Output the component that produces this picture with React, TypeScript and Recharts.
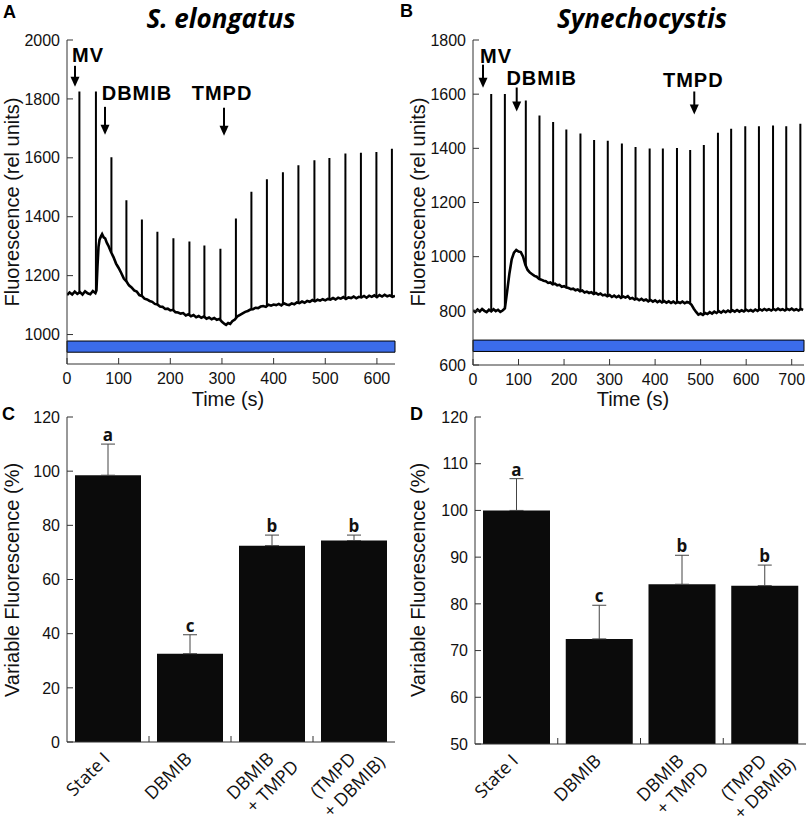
import React from 'react';
import {
  LineChart, Line, XAxis, YAxis, ReferenceArea, ReferenceDot,
  ComposedChart, Bar, ErrorBar, Scatter,
} from 'recharts';

// ---------------- DATA ----------------
// Panel A (S. elongatus) trace: [time s, fluorescence]
const TRACE_A: [number, number][] = [
  [0,1134],[5,1143],[10,1136],[15,1146],[20,1138],[25,1144],[30,1136],[35,1147],[40,1140],[45,1137],[50,1148],[55,1141],
  [57,1150],[59,1232],[61,1298],[63,1322],[66,1334],[68,1341],[71,1330],[74,1326],[77,1312],[80,1302],[85,1281],[90,1263],
  [95,1241],[100,1226],[105,1209],[110,1190],[115,1181],[120,1167],[125,1160],[130,1150],[135,1146],[140,1134],[145,1131],
  [150,1122],[155,1119],[160,1114],[165,1111],[170,1104],[175,1102],[180,1095],[185,1094],[190,1087],[195,1088],[200,1082],
  [205,1084],[210,1076],[215,1075],[220,1071],[225,1073],[230,1065],[235,1069],[240,1062],[245,1066],[250,1059],[255,1063],
  [260,1057],[265,1061],[270,1054],[275,1058],[280,1052],[285,1056],[290,1050],[295,1053],[300,1043],[305,1036],[308,1033],
  [312,1039],[316,1036],[320,1045],[325,1051],[330,1062],[335,1067],[340,1072],[345,1077],[350,1080],[355,1085],[360,1086],
  [365,1091],[370,1090],[375,1095],[380,1097],[385,1094],[390,1101],[395,1098],[400,1102],[405,1100],[410,1104],[415,1099],
  [420,1106],[425,1102],[430,1100],[435,1106],[440,1103],[445,1109],[450,1107],[455,1112],[460,1108],[465,1114],[470,1111],
  [475,1117],[480,1113],[485,1118],[490,1115],[495,1120],[500,1116],[505,1121],[510,1119],[515,1124],[520,1119],[525,1125],
  [530,1122],[535,1127],[540,1121],[545,1126],[550,1124],[555,1129],[560,1123],[565,1128],[570,1126],[575,1131],[580,1125],
  [585,1132],[590,1128],[595,1133],[600,1127],[605,1134],[610,1129],[615,1135],[620,1130],[625,1133],[630,1128],[635,1131],
];
// saturating pulses: [time, base, peak]
const SPIKES_A: [number, number, number][] = [
  [24,1140,1825],[56,1146,1825],[86,1280,1602],[115,1181,1456],[145,1131,1391],[175,1102,1349],[206,1082,1327],
  [237,1067,1316],[266,1059,1302],[297,1050,1291],[327,1055,1394],[357,1085,1485],[387,1096,1527],[418,1102,1551],
  [448,1107,1575],[479,1114,1592],[508,1118,1599],[539,1123,1615],[569,1126,1617],[599,1129,1620],[629,1130,1631],
];
const ANNOT_A = [
  { label: 'MV', t: 15.5, v: 1841 },
  { label: 'DBMIB', t: 73.6, v: 1678 },
  { label: 'TMPD', t: 304, v: 1675 },
];
const A_X_TICKS = [0, 100, 200, 300, 400, 500, 600];
const A_Y_TICKS = [1000, 1200, 1400, 1600, 1800, 2000];
const A_X_DOMAIN: [number, number] = [0, 635];
const A_Y_DOMAIN: [number, number] = [900, 2000];
const A_BAND: [number, number] = [940, 978];

// Panel B (Synechocystis)
const TRACE_B: [number, number][] = [
  [0,802],[5,796],[10,805],[15,798],[20,807],[25,800],[30,795],[35,804],[40,798],[45,806],[50,799],[55,804],[60,796],[65,801],
  [70,809],[75,872],[80,938],[85,990],[90,1015],[95,1025],[100,1019],[105,1017],[110,1000],[115,970],[120,951],[125,941],
  [130,935],[135,929],[140,926],[145,918],[150,915],[155,911],[160,909],[165,903],[170,905],[175,898],[180,900],[185,894],
  [190,896],[195,889],[200,891],[205,886],[210,884],[215,880],[220,882],[225,876],[230,879],[235,872],[240,875],[245,868],
  [250,871],[255,866],[260,869],[265,862],[270,866],[275,860],[280,864],[285,857],[290,860],[295,854],[300,858],[305,851],
  [310,856],[315,850],[320,855],[325,848],[330,853],[335,849],[340,854],[345,845],[350,848],[355,842],[360,845],[365,839],
  [370,844],[375,838],[380,842],[385,835],[390,840],[395,834],[400,839],[405,832],[410,837],[415,831],[420,836],[425,830],
  [430,835],[435,829],[440,834],[445,828],[450,833],[455,829],[460,834],[465,828],[470,833],[475,830],[480,822],[485,808],
  [490,796],[495,786],[500,790],[505,785],[510,792],[515,788],[520,795],[525,790],[530,797],[535,792],[540,799],[545,793],
  [550,800],[555,795],[560,801],[565,796],[570,802],[575,797],[580,803],[585,797],[590,802],[595,798],[600,804],[605,799],
  [610,803],[615,798],[620,805],[625,800],[630,806],[635,801],[640,807],[645,802],[650,806],[655,801],[660,807],[665,802],
  [670,808],[675,803],[680,806],[685,801],[690,807],[695,803],[700,808],[705,802],[710,806],[715,801],[720,807],[725,803],
];
const SPIKES_B: [number, number, number][] = [
  [40,798,1601],[70,809,1601],[116,968,1577],[146,918,1521],[176,899,1497],[205,886,1470],[236,874,1455],[266,864,1431],
  [296,856,1428],[327,850,1418],[357,844,1405],[388,840,1399],[417,832,1399],[448,831,1401],[477,830,1394],[507,790,1412],
  [538,798,1458],[567,800,1472],[598,800,1482],[628,804,1482],[659,805,1484],[688,805,1482],[719,805,1491],
];
const ANNOT_B = [
  { label: 'MV', t: 22, v: 1624 },
  { label: 'DBMIB', t: 96, v: 1536 },
  { label: 'TMPD', t: 486, v: 1525 },
];
const B_X_TICKS = [0, 100, 200, 300, 400, 500, 600, 700];
const B_Y_TICKS = [600, 800, 1000, 1200, 1400, 1600, 1800];
const B_X_DOMAIN: [number, number] = [0, 727];
const B_Y_DOMAIN: [number, number] = [600, 1800];
const B_BAND: [number, number] = [650, 692];

// Panels C, D
const CATEGORIES = ['State I', 'DBMIB', 'DBMIB\n+ TMPD', '(TMPD\n+ DBMIB)'];
const C_VALUES = [98.5, 32.6, 72.5, 74.4];
const C_CAPS = [110, 39.6, 76.4, 76.4];
const C_LETTERS = ['a', 'c', 'b', 'b'];
const C_Y_TICKS = [0, 20, 40, 60, 80, 100, 120];
const C_Y_DOMAIN: [number, number] = [0, 120];

const D_VALUES = [100, 72.5, 84.2, 83.9];
const D_CAPS = [106.8, 79.7, 90.4, 88.3];
const D_LETTERS = ['a', 'c', 'b', 'b'];
const D_Y_TICKS = [50, 60, 70, 80, 90, 100, 110, 120];
const D_Y_DOMAIN: [number, number] = [50, 120];

// ---------------- STYLE ----------------
const FONT = "'Liberation Sans', Arial, Helvetica, sans-serif";
const CAL = "'Open Sans', 'Noto Sans', sans-serif";
const AX = '#333';
const TICK_STYLE = { fill: '#111', fontSize: 16, fontFamily: FONT };
const BAND_FILL = '#3b6cea';

const ANNOT_STYLE_A: Record<string, { dx: number; len: number; gap: number }> = {
  MV: { dx: 13, len: 21, gap: 4 },
  DBMIB: { dx: 32, len: 28, gap: 7 },
  TMPD: { dx: -2, len: 28, gap: 8 },
};
const ANNOT_STYLE_B: Record<string, { dx: number; len: number; gap: number }> = {
  MV: { dx: 13, len: 23, gap: 2 },
  DBMIB: { dx: 25, len: 24, gap: 3 },
  TMPD: { dx: -1, len: 23, gap: 4 },
};

const arrowShape = (label: string, st: { dx: number; len: number; gap: number }) => (p: any) => {
  const { cx, cy } = p;
  return (
    <g>
      <line x1={cx} y1={cy - st.len} x2={cx} y2={cy - 8} stroke="#000" strokeWidth={2} />
      <polygon points={`${cx - 4.5},${cy - 10} ${cx + 4.5},${cy - 10} ${cx},${cy}`} fill="#000" />
      <text x={cx + st.dx} y={cy - st.len - st.gap} textAnchor="middle" fontFamily={FONT}
        fontWeight="bold" fontSize={20} letterSpacing={1} fill="#000">{label}</text>
    </g>
  );
};

function TracePanel(props: any) {
  const { width, height, margin, trace, spikes, annots, annotStyle, xDomain, xTicks, yDomain, yTicks, band } = props;
  const traceData = trace.map(([t, v]: [number, number]) => ({ t, v }));
  const spikeData = spikes.flatMap(([t, b, p]: [number, number, number]) => [
    { t, v: b }, { t, v: p }, { t, v: null },
  ]);
  return (
    <LineChart width={width} height={height} margin={margin}>
      <XAxis type="number" dataKey="t" domain={xDomain} ticks={xTicks} allowDataOverflow interval={0}
        tickSize={-6} tickMargin={15} height={30} stroke={AX} tick={TICK_STYLE} />
      <XAxis xAxisId="top" orientation="top" type="number" domain={xDomain} ticks={xTicks} allowDataOverflow
        interval={0} tickSize={-6} height={0} stroke={AX} tickFormatter={() => ''} />
      <YAxis type="number" domain={yDomain} ticks={yTicks} allowDataOverflow interval={0}
        tickSize={-6} tickMargin={13} width={60} stroke={AX} tick={TICK_STYLE} />
      <YAxis yAxisId="right" orientation="right" type="number" domain={yDomain} ticks={yTicks} allowDataOverflow
        interval={0} tickSize={-6} width={0} stroke={AX} tickFormatter={() => ''} />
      <ReferenceArea x1={xDomain[0]} x2={xDomain[1]} y1={band[0]} y2={band[1]} fill={BAND_FILL}
        fillOpacity={1} stroke="#000" strokeWidth={1} />
      <Line data={traceData} dataKey="v" type="linear" stroke="#000" strokeWidth={2.6} dot={false}
        isAnimationActive={false} />
      <Line data={spikeData} dataKey="v" type="linear" stroke="#000" strokeWidth={2} dot={false}
        isAnimationActive={false} connectNulls={false} />
      {annots.map((a: any) => (
        <ReferenceDot key={a.label} x={a.t} y={a.v} r={0} shape={arrowShape(a.label, annotStyle[a.label])} />
      ))}
    </LineChart>
  );
}

const BarTick = (p: any) => {
  const { x, y, payload } = p;
  const v = payload.value;
  if (Number.isInteger(v)) {
    return <line x1={x} x2={x} y1={y} y2={y - 6} stroke={AX} strokeWidth={1} />;
  }
  const lines = CATEGORIES[Math.floor(v)].split('\n');
  const u = lines.length > 1 ? 9 + (lines[1].length - lines[0].length) * 3 : 0;
  return (
    <g transform={`translate(${x + 3},${y + 18}) rotate(-45)`}>
      <text x={0} y={0} textAnchor="end" fontFamily={CAL} fontSize={18} fill="#111">{lines[0]}</text>
      {lines[1] && (
        <text x={u} y={23} textAnchor="end" fontFamily={CAL} fontSize={18} fill="#111">{lines[1]}</text>
      )}
    </g>
  );
};

const LetterShape = (p: any) => (
  <text x={p.cx} y={p.cy - 3} textAnchor="middle" fontFamily={CAL} fontWeight="bold" fontSize={17}
    fill="#111">{p.payload.letter}</text>
);

function BarPanel(props: any) {
  const { width, height, margin, values, caps, letters, yDomain, yTicks, barSize } = props;
  const data = CATEGORIES.map((name, i) => ({
    x: i + 0.5, name, value: values[i], err: [0, caps[i] - values[i]], cap: caps[i], letter: letters[i],
  }));
  const n = CATEGORIES.length;
  const xTicks: number[] = [];
  for (let i = 0; i < n; i++) { xTicks.push(i + 0.5); if (i < n - 1) xTicks.push(i + 1); }
  const bounds = xTicks.filter((t) => Number.isInteger(t));
  return (
    <ComposedChart width={width} height={height} margin={margin} data={data}>
      <XAxis type="number" dataKey="x" domain={[0, n]} ticks={xTicks} allowDataOverflow interval={0}
        tickSize={0} tickMargin={0} tickLine={false} height={70} stroke={AX} tick={(tp: any) => <BarTick {...tp} />} />
      <XAxis xAxisId="top" orientation="top" type="number" domain={[0, n]} ticks={bounds} allowDataOverflow
        interval={0} tickSize={-6} height={0} stroke={AX} tickFormatter={() => ''} />
      <YAxis type="number" domain={yDomain} ticks={yTicks} allowDataOverflow interval={0}
        tickSize={-6} tickMargin={13} width={60} stroke={AX} tick={TICK_STYLE} />
      <YAxis yAxisId="right" orientation="right" type="number" domain={yDomain} ticks={yTicks} allowDataOverflow
        interval={0} tickSize={-6} width={0} stroke={AX} tickFormatter={() => ''} />
      <Bar dataKey="value" fill="#0b0b0b" barSize={barSize} isAnimationActive={false}>
        <ErrorBar dataKey="err" width={7} stroke="#444" strokeWidth={1} direction="y" />
      </Bar>
      <Scatter dataKey="cap" shape={LetterShape} isAnimationActive={false} />
    </ComposedChart>
  );
}

export default function App() {
  const abs = (left: number, top: number) => ({ position: 'absolute' as const, left, top });
  const titleProps = { fontFamily: FONT, fontSize: 20, fill: '#111', textAnchor: 'middle' as const };
  const letterProps = { fontFamily: FONT, fontSize: 18, fontWeight: 'bold' as const, fill: '#000' };
  const speciesProps = { fontFamily: CAL, fontSize: 26, fontWeight: 'bold' as const, fontStyle: 'italic' as const, fill: '#000', textAnchor: 'middle' as const };
  return (
    <div style={{ position: 'absolute', left: 0, top: 0, width: 807, height: 825, background: '#fff', overflow: 'hidden' }}>
      <div style={abs(0, 0)}>
        <TracePanel width={400} height={410} margin={{ top: 40, right: 5, bottom: 16, left: 7 }}
          trace={TRACE_A} spikes={SPIKES_A} annots={ANNOT_A} annotStyle={ANNOT_STYLE_A}
          xDomain={A_X_DOMAIN} xTicks={A_X_TICKS} yDomain={A_Y_DOMAIN} yTicks={A_Y_TICKS} band={A_BAND} />
      </div>
      <div style={abs(400, 0)}>
        <TracePanel width={407} height={410} margin={{ top: 40, right: 3, bottom: 15, left: 13 }}
          trace={TRACE_B} spikes={SPIKES_B} annots={ANNOT_B} annotStyle={ANNOT_STYLE_B}
          xDomain={B_X_DOMAIN} xTicks={B_X_TICKS} yDomain={B_Y_DOMAIN} yTicks={B_Y_TICKS} band={B_BAND} />
      </div>
      <div style={abs(0, 400)}>
        <BarPanel width={400} height={425} margin={{ top: 17, right: 5, bottom: 13, left: 7 }}
          values={C_VALUES} caps={C_CAPS} letters={C_LETTERS} yDomain={C_Y_DOMAIN} yTicks={C_Y_TICKS} barSize={66} />
      </div>
      <div style={abs(400, 400)}>
        <BarPanel width={407} height={425} margin={{ top: 17, right: 1, bottom: 11, left: 15 }}
          values={D_VALUES} caps={D_CAPS} letters={D_LETTERS} yDomain={D_Y_DOMAIN} yTicks={D_Y_TICKS} barSize={67} />
      </div>
      <svg width={807} height={825} style={{ position: 'absolute', left: 0, top: 0, pointerEvents: 'none' }}>
        <text x={3} y={18} {...letterProps}>A</text>
        <text x={400} y={17} {...letterProps}>B</text>
        <text x={2} y={420} {...letterProps}>C</text>
        <text x={410} y={420} {...letterProps}>D</text>
        <text x={221} y={28} {...speciesProps}>S. elongatus</text>
        <text x={642} y={28} {...speciesProps}>Synechocystis</text>
        <text transform="translate(19,202) rotate(-90)" {...titleProps}>Fluorescence (rel units)</text>
        <text transform="translate(425,202) rotate(-90)" {...titleProps}>Fluorescence (rel units)</text>
        <text x={228} y={406} {...titleProps}>Time (s)</text>
        <text x={633} y={406} {...titleProps}>Time (s)</text>
        <text transform="translate(19,580) rotate(-90)" {...titleProps}>Variable Fluorescence (%)</text>
        <text transform="translate(425,580) rotate(-90)" {...titleProps}>Variable Fluorescence (%)</text>
      </svg>
    </div>
  );
}
